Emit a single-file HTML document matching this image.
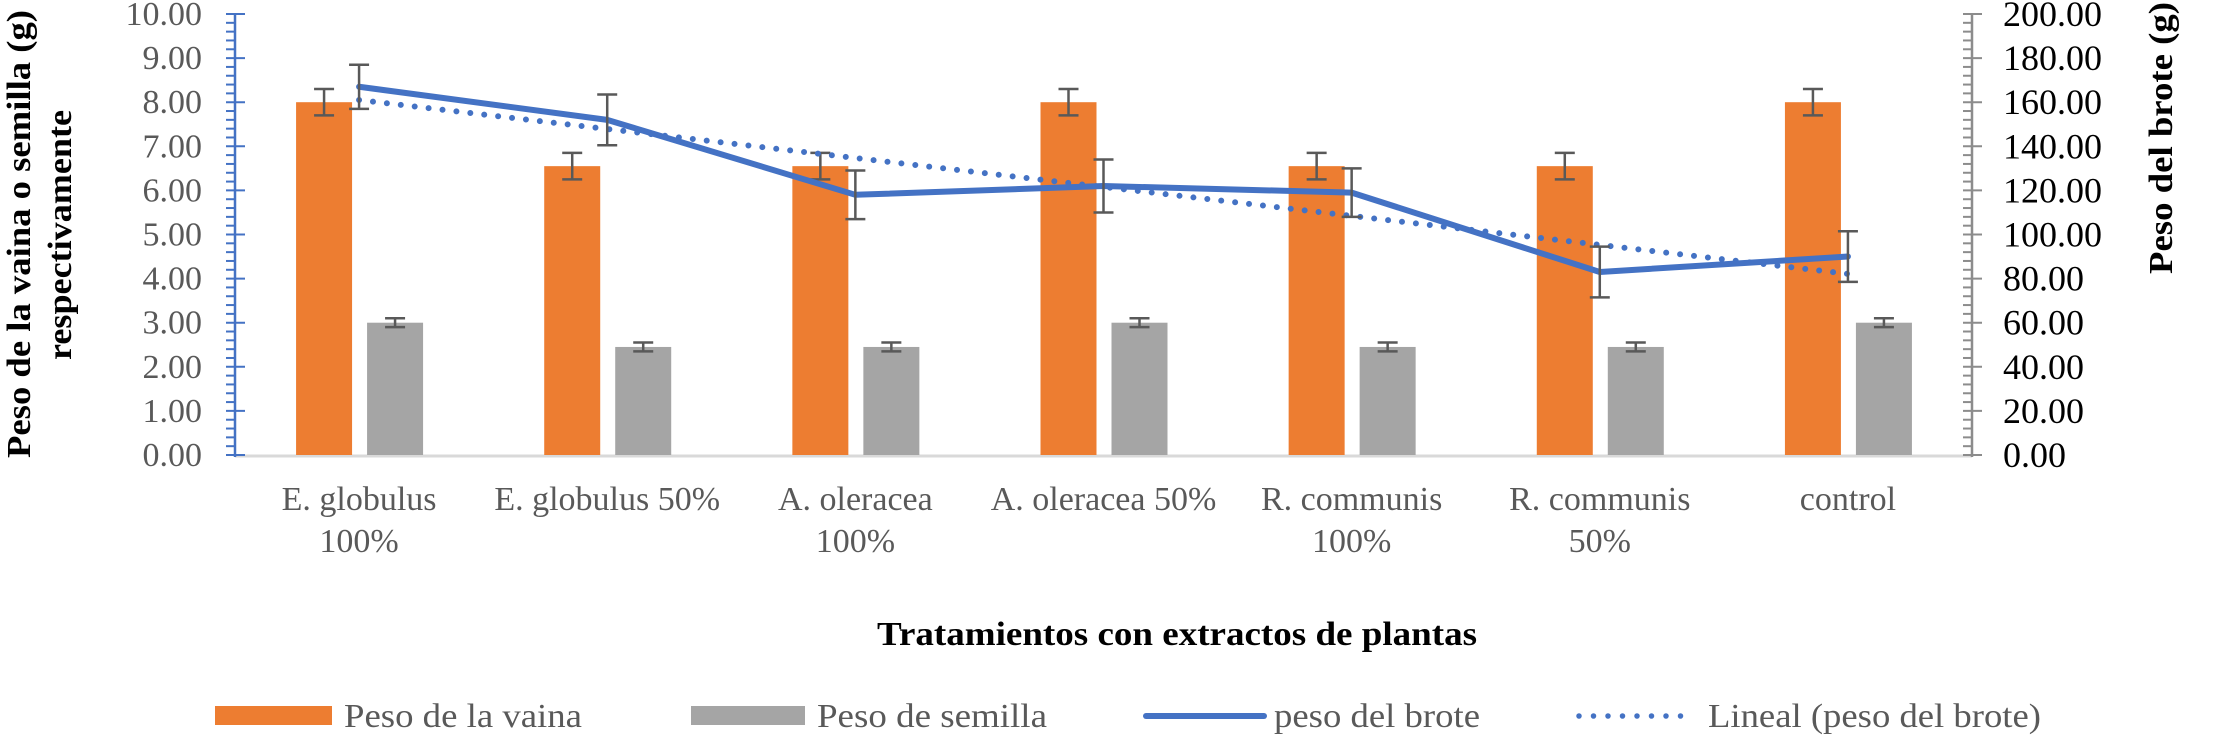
<!DOCTYPE html>
<html><head><meta charset="utf-8"><style>
html,body{margin:0;padding:0;background:#fff;}
svg{display:block;font-family:"Liberation Serif",serif;}
</style></head><body>
<svg id="chart" width="2216" height="756" xmlns="http://www.w3.org/2000/svg">
<g id="grid"></g>
<text transform="translate(30,234) rotate(-90)" text-anchor="middle" font-weight="bold" font-size="34" textLength="448" lengthAdjust="spacingAndGlyphs">Peso de la vaina o semilla (g)</text>
<text transform="translate(71,235) rotate(-90)" text-anchor="middle" font-weight="bold" font-size="34" textLength="250" lengthAdjust="spacingAndGlyphs">respectivamente</text>
<text transform="translate(2172,138) rotate(-90)" text-anchor="middle" font-weight="bold" font-size="34" textLength="272" lengthAdjust="spacingAndGlyphs">Peso del brote (g)</text>
<text x="1177" y="645" text-anchor="middle" font-weight="bold" font-size="34" textLength="600" lengthAdjust="spacingAndGlyphs">Tratamientos con extractos de plantas</text>
<g font-size="34" fill="#595959">
<rect x="215" y="706" width="117" height="19" fill="#ED7D31"/>
<text x="344" y="727" textLength="238" lengthAdjust="spacingAndGlyphs">Peso de la vaina</text>
<rect x="691" y="706" width="114" height="19" fill="#A5A5A5"/>
<text x="817" y="727" textLength="230" lengthAdjust="spacingAndGlyphs">Peso de semilla</text>
<line x1="1146" y1="716" x2="1264" y2="716" stroke="#4472C4" stroke-width="6" stroke-linecap="round"/>
<text x="1274" y="727" textLength="206" lengthAdjust="spacingAndGlyphs">peso del brote</text>
<line x1="1579" y1="716" x2="1695" y2="716" stroke="#4472C4" stroke-width="5.5" stroke-linecap="round" stroke-dasharray="0 14.5"/>
<text x="1708" y="727" textLength="333" lengthAdjust="spacingAndGlyphs">Lineal (peso del brote)</text>
</g>
<g id="plot"></g>
</svg>
<script>
const categories = ["E. globulus|100%","E. globulus 50%","A. oleracea|100%","A. oleracea 50%","R. communis|100%","R. communis|50%","control"];
const vaina = [8, 6.55, 6.55, 8, 6.55, 6.55, 8];
const vainaErr = [0.3, 0.3, 0.3, 0.3, 0.3, 0.3, 0.3];
const semilla = [3, 2.45, 2.45, 3, 2.45, 2.45, 3];
const semillaErr = [0.1, 0.1, 0.1, 0.1, 0.1, 0.1, 0.1];
const brote = [167, 152, 118, 122, 119, 83, 90];
const broteErr = [10, 11.5, 11, 12, 11, 11.5, 11.5];
const leftTicks = ["0.00","1.00","2.00","3.00","4.00","5.00","6.00","7.00","8.00","9.00","10.00"];
const rightTicks = ["0.00","20.00","40.00","60.00","80.00","100.00","120.00","140.00","160.00","180.00","200.00"];

const NS="http://www.w3.org/2000/svg";
const X0=235, X1=1972, YT=14, YB=455;
const bw=(X1-X0)/categories.length;
const yL=v=>YB-(v/10)*(YB-YT);
const yR=v=>YB-(v/200)*(YB-YT);
const xC=i=>X0+bw*(i+0.5);
const plot=document.getElementById('plot');
const grid=document.getElementById('grid');
function mk(tag,attrs,parent){const e=document.createElementNS(NS,tag);for(const k in attrs)e.setAttribute(k,attrs[k]);(parent||plot).appendChild(e);return e;}

let base=mk('line',{x1:X0,y1:YB+1,x2:X1,y2:YB+1,stroke:'#d9d9d9','stroke-width':3},grid);


let la=mk('line',{x1:X0,y1:YT,x2:X0,y2:YB+2,stroke:'#4472C4','stroke-width':2.5},grid);


let ra=mk('line',{x1:X1,y1:YT,x2:X1,y2:YB+2,stroke:'#8c8c8c','stroke-width':2.5},grid);


for(let k=0;k<=50;k++){
  const y=YB-k*(YB-YT)/50;
  const major=k%5===0;
  mk('line',{x1:X0-9,y1:y,x2:major?X0+10:X0,y2:y,stroke:'#4472C4','stroke-width':2},grid);
  mk('line',{x1:X1-9,y1:y,x2:major?X1+10:X1,y2:y,stroke:'#8c8c8c','stroke-width':2},grid);
}
leftTicks.forEach((t,i)=>{
  const e=mk('text',{x:202,y:yL(+t)+11,'text-anchor':'end','font-size':34,fill:'#595959'},grid);
  e.textContent=t;
  
  
});
rightTicks.forEach((t,i)=>{
  const e=mk('text',{x:2003,y:yR(+t)+12,'font-size':36,fill:'#000'},grid);
  e.textContent=t;
  
  
});
categories.forEach((c,i)=>{
  const lines=c.split('|');
  lines.forEach((ln,j)=>{
    const e=mk('text',{x:xC(i),y:510+j*42,'text-anchor':'middle','font-size':34,fill:'#595959'},grid);
    e.textContent=ln;
    
    
  });
});
function errbar(x,y1,y2,w){
  mk('line',{x1:x,y1:y1,x2:x,y2:y2,stroke:'#595959','stroke-width':2.5});
  mk('line',{x1:x-w,y1:y1,x2:x+w,y2:y1,stroke:'#595959','stroke-width':2.5});
  mk('line',{x1:x-w,y1:y2,x2:x+w,y2:y2,stroke:'#595959','stroke-width':2.5});
}
categories.forEach((c,i)=>{
  const xo=xC(i)-63, xg=xC(i)+8;
  const r1=mk('rect',{x:xo,y:yL(vaina[i]),width:56,height:YB-yL(vaina[i]),fill:'#ED7D31'});
  
  
  const r2=mk('rect',{x:xg,y:yL(semilla[i]),width:56,height:YB-yL(semilla[i]),fill:'#A5A5A5'});
  
  
  errbar(xo+28,yL(vaina[i]+vainaErr[i]),yL(vaina[i]-vainaErr[i]),10);
  errbar(xg+28,yL(semilla[i]+semillaErr[i]),yL(semilla[i]-semillaErr[i]),10);
});
const n=brote.length, mx=(n-1)/2, my=brote.reduce((a,b)=>a+b,0)/n;
let sxy=0,sxx=0;brote.forEach((v,i)=>{sxy+=(i-mx)*(v-my);sxx+=(i-mx)*(i-mx);});
const slope=sxy/sxx, icpt=my-slope*mx;
const tr=mk('line',{x1:xC(0),y1:yR(icpt),x2:xC(n-1),y2:yR(icpt+slope*(n-1)),stroke:'#4472C4','stroke-width':6,'stroke-linecap':'round','stroke-dasharray':'0 14'});


const pl=mk('polyline',{points:brote.map((v,i)=>xC(i)+','+yR(v)).join(' '),fill:'none',stroke:'#4472C4','stroke-width':6,'stroke-linejoin':'round','stroke-linecap':'round'});


brote.forEach((v,i)=>errbar(xC(i),yR(v+broteErr[i]),yR(v-broteErr[i]),10));
</script>
</body></html>
